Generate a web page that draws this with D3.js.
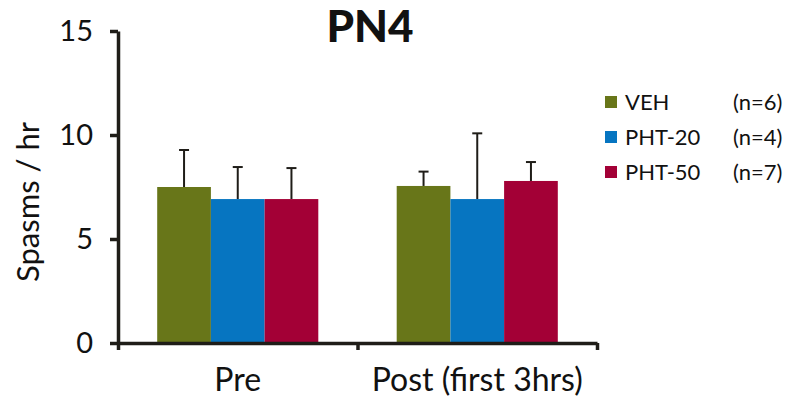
<!DOCTYPE html>
<html>
<head>
<meta charset="utf-8">
<script src="https://cdn.jsdelivr.net/npm/d3@7"></script>
<style>
  html, body { margin: 0; padding: 0; background: #fff; }
  svg { display: block; }
  text { font-family: Lato, "Open Sans", sans-serif; fill: #111; }
</style>
</head>
<body>
<svg id="chart" width="800" height="412"></svg>
<script>
const categories = ["Pre", "Post (first 3hrs)"];
const seriesNames = ["VEH", "PHT-20", "PHT-50"];
const seriesN = ["(n=6)", "(n=4)", "(n=7)"];
const seriesColors = ["#687619", "#0675C1", "#A30036"];
const vehMeans = [7.5, 7.55];
const pht20Means = [6.92, 6.92];
const pht50Means = [6.92, 7.79];
const vehErrTop = [9.28, 8.24];
const pht20ErrTop = [8.46, 10.08];
const pht50ErrTop = [8.41, 8.7];
const yTicks = [0, 5, 10, 15];
const title = "PN4";
const yLabel = "Spasms / hr";

const means = [vehMeans, pht20Means, pht50Means];
const errTops = [vehErrTop, pht20ErrTop, pht50ErrTop];

const svg = d3.select("#chart");
const plotLeft = 118, plotRight = 597, plotTop = 31, plotBottom = 343;
const axisColor = "#1f1d18";

const y = d3.scaleLinear().domain([0, 15]).range([plotBottom, plotTop]);
const x0 = d3.scaleBand().domain(categories).range([plotLeft, plotRight]).paddingInner(0).paddingOuter(0);
const x1 = d3.scaleBand().domain(seriesNames).range([0, x0.bandwidth()]).paddingInner(0).paddingOuter(0.73);
const xBound = d3.scaleLinear().domain([0, categories.length]).range([plotLeft, plotRight]);

const data = [];
categories.forEach((c, ci) => {
  seriesNames.forEach((s, si) => {
    data.push({ c, s, si, v: means[si][ci], e: errTops[si][ci] });
  });
});

const g = svg.append("g");
const cx = d => x0(d.c) + x1(d.s) + x1.bandwidth() / 2;

const eb = g.selectAll(".err").data(data).enter().append("g").attr("class", "err");
eb.append("line")
  .attr("x1", cx).attr("x2", cx)
  .attr("y1", d => y(d.v)).attr("y2", d => y(d.e))
  .attr("stroke", axisColor).attr("stroke-width", 2);
eb.append("line")
  .attr("x1", d => cx(d) - 5).attr("x2", d => cx(d) + 5)
  .attr("y1", d => y(d.e)).attr("y2", d => y(d.e))
  .attr("stroke", axisColor).attr("stroke-width", 2);

g.selectAll(".bar").data(data).enter().append("rect")
  .attr("class", "bar")
  .attr("x", d => x0(d.c) + x1(d.s))
  .attr("width", x1.bandwidth())
  .attr("y", d => y(d.v))
  .attr("height", d => y(0) - y(d.v))
  .attr("fill", d => seriesColors[d.si]);

const yAxis = svg.append("g")
  .attr("transform", `translate(${plotLeft},0)`)
  .call(d3.axisLeft(y).tickValues(yTicks).tickSize(8).tickSizeOuter(0).tickPadding(17));
yAxis.select(".domain").attr("stroke", axisColor).attr("stroke-width", 3.5);
yAxis.selectAll(".tick line").attr("stroke", axisColor).attr("stroke-width", 3.5);
yAxis.selectAll(".tick text").style("font-size", "29px").attr("fill", "#111").attr("font-family", "Lato, sans-serif");

const xAxisB = svg.append("g")
  .attr("transform", `translate(0,${plotBottom})`)
  .call(d3.axisBottom(xBound).tickValues([0, 1, 2]).tickSize(7).tickSizeOuter(0).tickFormat(""));
xAxisB.select(".domain").attr("stroke", axisColor).attr("stroke-width", 3.5);
xAxisB.selectAll(".tick line").attr("stroke", axisColor).attr("stroke-width", 3.5);

const xAxisL = svg.append("g")
  .attr("transform", `translate(0,${plotBottom})`)
  .call(d3.axisBottom(x0).tickSize(0).tickPadding(25));
xAxisL.select(".domain").remove();
xAxisL.selectAll(".tick text").style("font-size", "32px").attr("fill", "#111").attr("font-family", "Lato, sans-serif");

svg.append("text")
  .attr("x", 370).attr("y", 42)
  .attr("text-anchor", "middle")
  .style("font-size", "44px").style("font-weight", "900")
  .text(title);

svg.append("text")
  .attr("transform", "translate(39,202) rotate(-90)")
  .attr("text-anchor", "middle")
  .style("font-size", "31px")
  .text(yLabel);

const leg = svg.append("g");
const rowY = d3.scalePoint().domain(seriesNames).range([102, 172]);
seriesNames.forEach((s, i) => {
  const yy = rowY(s);
  leg.append("rect").attr("x", 605).attr("y", yy - 6).attr("width", 12).attr("height", 12).attr("fill", seriesColors[i]);
  leg.append("text").attr("x", 625).attr("y", yy).attr("dy", "0.35em").style("font-size", "22px").text(s);
  leg.append("text").attr("x", 733).attr("y", yy).attr("dy", "0.35em").style("font-size", "22px").text(seriesN[i]);
});
</script>
</body>
</html>
